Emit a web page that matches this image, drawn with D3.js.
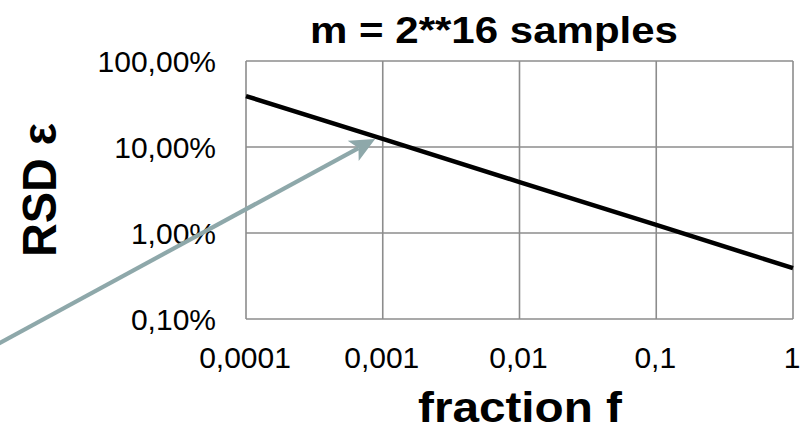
<!DOCTYPE html>
<html><head><meta charset="utf-8">
<script src="https://cdn.jsdelivr.net/npm/d3@7"></script>
<style>
html,body{margin:0;padding:0;background:#fff;}
svg{display:block;font-family:"Liberation Sans",Arial,sans-serif;}
</style></head>
<body>
<svg id="chart" width="804" height="430"></svg>
<script>
// Data
const fractions = [0.0001, 0.001, 0.01, 0.1, 1];
const rsdValues = [0.391, 0.124, 0.0391, 0.0124, 0.0039];
const xTicks = [0.0001, 0.001, 0.01, 0.1, 1];
const xTickLabels = ["0,0001", "0,001", "0,01", "0,1", "1"];
const yTicks = [0.001, 0.01, 0.1, 1];
const yTickLabels = ["0,10%", "1,00%", "10,00%", "100,00%"];
const titleText = "m = 2**16 samples";
const xTitle = "fraction f";
const yTitle = "RSD ε";
// annotation arrow (data space: [fraction, rsd])
const arrowFrom = [1.34e-6, 0.000455];
const arrowTo = [0.00088, 0.124];

const W = 804, H = 430;
const margin = {left: 246, top: 61, right: 11, bottom: 111};
const iw = W - margin.left - margin.right;
const ih = H - margin.top - margin.bottom;

const svg = d3.select("#chart");
const g = svg.append("g").attr("transform", `translate(${margin.left},${margin.top})`);

const x = d3.scaleLog().domain([0.0001, 1]).range([0, iw]);
const y = d3.scaleLog().domain([0.001, 1]).range([ih, 0]);

const gridColor = "#8c8c8c";

// gridlines
g.append("g").selectAll("line.v").data(xTicks).join("line")
  .attr("x1", d => x(d)).attr("x2", d => x(d))
  .attr("y1", 0).attr("y2", ih)
  .attr("stroke", gridColor).attr("stroke-width", 1.6);
g.append("g").selectAll("line.h").data(yTicks).join("line")
  .attr("x1", 0).attr("x2", iw)
  .attr("y1", d => y(d)).attr("y2", d => y(d))
  .attr("stroke", gridColor).attr("stroke-width", 1.6);

// axes (labels only)
const xAxis = d3.axisBottom(x).tickValues(xTicks)
  .tickFormat((d, i) => xTickLabels[i]).tickSize(0).tickPadding(0);
const xa = g.append("g").attr("transform", `translate(0,${ih})`).call(xAxis);
xa.select(".domain").remove();
xa.selectAll("text").attr("font-size", 30).attr("fill", "#000")
  .attr("font-family", "Liberation Sans, Arial, sans-serif")
  .attr("dy", null).attr("y", 49).attr("dx", -1.5);

const yAxis = d3.axisLeft(y).tickValues(yTicks)
  .tickFormat((d, i) => yTickLabels[i]).tickSize(0).tickPadding(30);
const ya = g.append("g").call(yAxis);
ya.select(".domain").remove();
ya.selectAll("text").attr("font-size", 30).attr("fill", "#000")
  .attr("font-family", "Liberation Sans, Arial, sans-serif")
  .attr("dy", "0.35em");

// data line
const line = d3.line().x((d, i) => x(fractions[i])).y(d => y(d));
g.append("path").datum(rsdValues)
  .attr("d", line).attr("fill", "none")
  .attr("stroke", "#000").attr("stroke-width", 4.5);

// arrow annotation
const arrowColor = "#8ea8aa";
const x0 = x(arrowFrom[0]), y0 = y(arrowFrom[1]);
const x1 = x(arrowTo[0]), y1 = y(arrowTo[1]);
const len = Math.hypot(x1 - x0, y1 - y0);
const ux = (x1 - x0) / len, uy = (y1 - y0) / len;
const px = -uy, py = ux;
const headL = 25, headW = 11.5;
const bx = x1 - ux * headL, by = y1 - uy * headL;
g.append("line")
  .attr("x1", x0).attr("y1", y0)
  .attr("x2", x1 - ux * (headL - 6)).attr("y2", y1 - uy * (headL - 6))
  .attr("stroke", arrowColor).attr("stroke-width", 4.2);
g.append("path")
  .attr("d", `M${x1},${y1} L${bx + px * headW},${by + py * headW} L${x1 - ux * (headL - 6)},${y1 - uy * (headL - 6)} L${bx - px * headW},${by - py * headW} Z`)
  .attr("fill", arrowColor);

// titles
svg.append("text").attr("x", 494).attr("y", 43)
  .attr("text-anchor", "middle").attr("font-weight", "bold")
  .attr("font-size", 37).attr("fill", "#000")
  .attr("textLength", 368).attr("lengthAdjust", "spacingAndGlyphs")
  .text(titleText);

svg.append("text").attr("x", 520).attr("y", 422)
  .attr("text-anchor", "middle").attr("font-weight", "bold")
  .attr("font-size", 43).attr("fill", "#000")
  .attr("textLength", 204).attr("lengthAdjust", "spacingAndGlyphs")
  .text(xTitle);

svg.append("text")
  .attr("transform", "translate(56,190) rotate(-90)")
  .attr("text-anchor", "middle").attr("font-weight", "bold")
  .attr("font-size", 48).attr("fill", "#000")
  .attr("textLength", 134).attr("lengthAdjust", "spacingAndGlyphs")
  .text(yTitle);
</script>
</body></html>
